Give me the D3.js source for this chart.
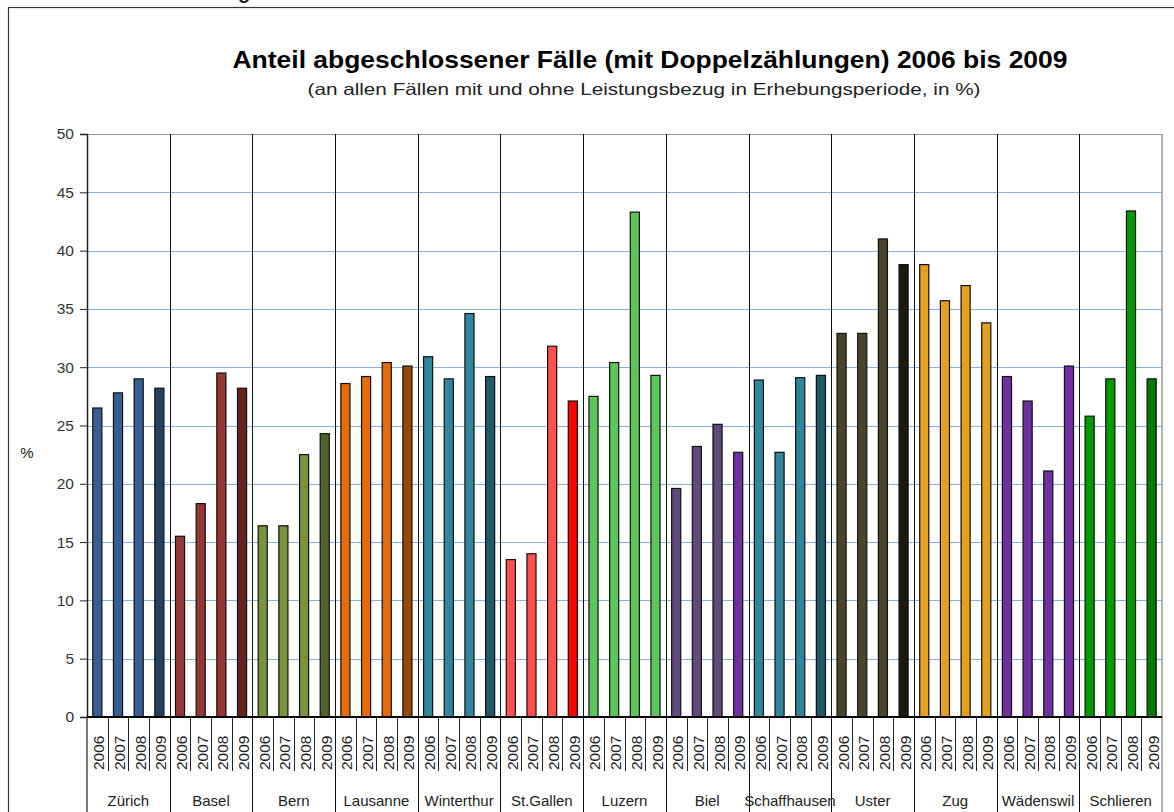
<!DOCTYPE html>
<html>
<head>
<meta charset="utf-8">
<script src="https://cdn.jsdelivr.net/npm/d3@7"></script>
<style>
  body { margin: 0; background: #fff; }
  text { font-family: "Liberation Sans", Arial, sans-serif; fill: #222; }
</style>
</head>
<body>
<div id="chart"></div>
<script>
// data
var cities = ["Zürich", "Basel", "Bern", "Lausanne", "Winterthur", "St.Gallen", "Luzern",
  "Biel", "Schaffhausen", "Uster", "Zug", "Wädenswil", "Schlieren"];
var years = ["2006", "2007", "2008", "2009"];
var values = [
  [26.5, 27.8, 29.0, 28.2],
  [15.5, 18.3, 29.5, 28.2],
  [16.4, 16.4, 22.5, 24.3],
  [28.6, 29.2, 30.4, 30.1],
  [30.9, 29.0, 34.6, 29.2],
  [13.5, 14.0, 31.8, 27.1],
  [27.5, 30.4, 43.3, 29.3],
  [19.6, 23.2, 25.1, 22.7],
  [28.9, 22.7, 29.1, 29.3],
  [32.9, 32.9, 41.0, 38.8],
  [38.8, 35.7, 37.0, 33.8],
  [29.2, 27.1, 21.1, 30.1],
  [25.8, 29.0, 43.4, 29.0]
];
var colors = [
  ["#376092", "#376092", "#376092", "#254061"],
  ["#953735", "#953735", "#953735", "#632523"],
  ["#77933c", "#77933c", "#77933c", "#4f6228"],
  ["#e46c0a", "#e46c0a", "#e46c0a", "#984807"],
  ["#31859c", "#31859c", "#31859c", "#215968"],
  ["#ff5050", "#ff5050", "#ff5050", "#ff0000"],
  ["#5cc55c", "#5cc55c", "#5cc55c", "#5cc55c"],
  ["#604a7b", "#604a7b", "#604a7b", "#7030a0"],
  ["#31859c", "#31859c", "#31859c", "#215968"],
  ["#4a452a", "#4a452a", "#4a452a", "#1d1b10"],
  ["#e6a020", "#e6a020", "#e6a020", "#e6a020"],
  ["#7030a0", "#7030a0", "#7030a0", "#7030a0"],
  ["#009900", "#009900", "#009900", "#007a00"]
];
var yTicks = [0, 5, 10, 15, 20, 25, 30, 35, 40, 45, 50];

var svgWidth = 1174;
var svgHeight = 812;
var margin = {top: 134, right: 12, bottom: 95, left: 87};
var width = svgWidth - margin.left - margin.right;
var height = svgHeight - margin.top - margin.bottom;

var svg = d3.select("#chart").append("svg")
  .attr("width", svgWidth)
  .attr("height", svgHeight);

// outer frame (runs off the right and bottom)
svg.append("rect")
  .attr("x", 8.5).attr("y", 7.5)
  .attr("width", 1200).attr("height", 900)
  .attr("fill", "none").attr("stroke", "#333").attr("stroke-width", 1.2);

// cut-off heading above the frame
svg.append("text")
  .attr("x", 238).attr("y", -1)
  .attr("font-size", 20).attr("font-weight", "bold")
  .text("g");

svg.append("text")
  .attr("x", 650).attr("y", 68)
  .attr("text-anchor", "middle")
  .attr("font-size", 23).attr("font-weight", "bold")
  .attr("textLength", 835).attr("lengthAdjust", "spacingAndGlyphs")
  .style("fill", "#000")
  .text("Anteil abgeschlossener Fälle (mit Doppelzählungen) 2006 bis 2009");

svg.append("text")
  .attr("x", 644).attr("y", 95)
  .attr("text-anchor", "middle")
  .attr("font-size", 16.5)
  .attr("textLength", 673).attr("lengthAdjust", "spacingAndGlyphs")
  .text("(an allen Fällen mit und ohne Leistungsbezug in Erhebungsperiode, in %)");

var chartGroup = svg.append("g")
  .attr("transform", `translate(${margin.left}, ${margin.top})`);

var x0 = d3.scaleBand().domain(cities).range([0, width]);
var x1 = d3.scaleBand().domain(years).range([0, x0.bandwidth()]).paddingInner(0.56).paddingOuter(0.28);
var yScale = d3.scaleLinear().domain([0, 50]).range([height, 0]);
var plotH = yScale(0);

// gridlines
chartGroup.selectAll(".grid")
  .data(yTicks.filter(d => d > 0))
  .enter().append("line")
  .attr("x1", 0).attr("x2", width)
  .attr("y1", d => Math.round(yScale(d)) + 0.5).attr("y2", d => Math.round(yScale(d)) + 0.5)
  .attr("stroke", d => d === 50 ? "#8c96a0" : "#86b0e6")
  .attr("stroke-width", d => d === 50 ? 1.5 : 1)
  .attr("shape-rendering", "crispEdges");

// city separators (through plot and labels)
chartGroup.selectAll(".sep")
  .data(cities.slice(1))
  .enter().append("line")
  .attr("x1", d => Math.round(x0(d)) + 0.5).attr("x2", d => Math.round(x0(d)) + 0.5)
  .attr("y1", 0).attr("y2", svgHeight - margin.top)
  .attr("stroke", "#111").attr("stroke-width", 1);

// right edge of plot
chartGroup.append("line")
  .attr("x1", width).attr("x2", width)
  .attr("y1", 0).attr("y2", svgHeight - margin.top)
  .attr("stroke", "#999").attr("stroke-width", 1.5);

// bars
var bars = [];
cities.forEach(function(c, i) {
  years.forEach(function(y, j) {
    bars.push({city: c, year: y, value: values[i][j], color: colors[i][j]});
  });
});

chartGroup.selectAll(".bar")
  .data(bars)
  .enter().append("rect")
  .attr("x", d => x0(d.city) + x1(d.year))
  .attr("y", d => yScale(d.value))
  .attr("width", x1.bandwidth())
  .attr("height", d => plotH - yScale(d.value))
  .attr("fill", d => d.color)
  .attr("stroke", "#111")
  .attr("stroke-width", 1.2);

// year ticks under the axis
var yearTicks = [];
cities.forEach(function(c) {
  years.forEach(function(y, j) {
    if (j > 0) yearTicks.push(x0(c) + j * x0.bandwidth() / 4);
  });
});
chartGroup.selectAll(".ytick")
  .data(yearTicks)
  .enter().append("line")
  .attr("x1", d => Math.round(d) + 0.5).attr("x2", d => Math.round(d) + 0.5)
  .attr("y1", plotH).attr("y2", plotH + 54)
  .attr("stroke", "#222").attr("stroke-width", 1);

chartGroup.selectAll(".yearLabel")
  .data(bars)
  .enter().append("text")
  .attr("transform", d => `translate(${x0(d.city) + x1(d.year) + x1.bandwidth() / 2 + 7}, ${plotH + 53}) rotate(-90)`)
  .attr("text-anchor", "start")
  .attr("font-size", 15.5)
  .text(d => d.year);

chartGroup.selectAll(".cityLabel")
  .data(cities)
  .enter().append("text")
  .attr("x", d => x0(d) + x0.bandwidth() / 2)
  .attr("y", plotH + 89)
  .attr("text-anchor", "middle")
  .attr("font-size", 15)
  .text(d => d);

// y axis
var leftAxis = d3.axisLeft(yScale).tickValues(yTicks).tickSize(7).tickPadding(6);
var yAxisG = chartGroup.append("g").call(leftAxis);
yAxisG.select(".domain").attr("stroke", "#222").attr("stroke-width", 1.5);
yAxisG.selectAll(".tick line").attr("stroke", "#222");
yAxisG.selectAll(".tick text")
  .attr("font-size", 15.5)
  .attr("font-family", "Liberation Sans, Arial, sans-serif")
  .style("fill", "#333");

// x axis line
chartGroup.append("line")
  .attr("x1", 0).attr("x2", width)
  .attr("y1", plotH).attr("y2", plotH)
  .attr("stroke", "#000").attr("stroke-width", 2);
// left axis extension through label rows
chartGroup.append("line")
  .attr("x1", 0).attr("x2", 0)
  .attr("y1", plotH).attr("y2", svgHeight - margin.top)
  .attr("stroke", "#222").attr("stroke-width", 1.2);

svg.append("text")
  .attr("x", 27).attr("y", 458)
  .attr("text-anchor", "middle")
  .attr("font-size", 15)
  .text("%");
</script>
</body>
</html>
